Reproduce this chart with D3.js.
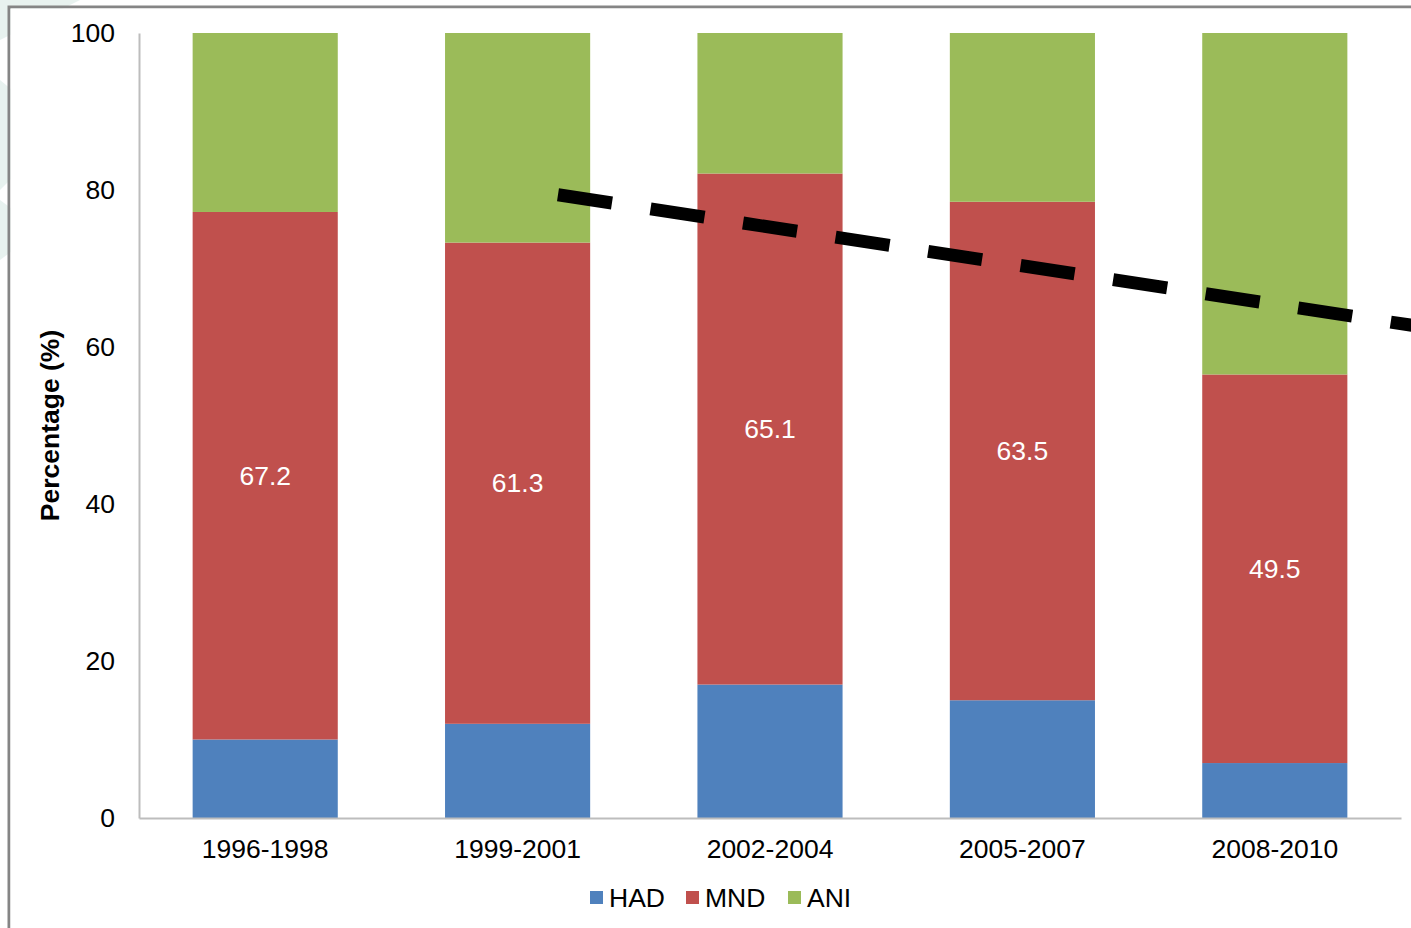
<!DOCTYPE html>
<html>
<head>
<meta charset="utf-8">
<script src="https://cdn.jsdelivr.net/npm/d3@7/dist/d3.min.js"></script>
<style>
  html, body { margin: 0; padding: 0; background: #ffffff; }
  svg { display: block; font-family: "Liberation Sans", Arial, sans-serif; }
</style>
</head>
<body>
<svg id="chart" width="1411" height="928"></svg>
<script>
// Periods on the x axis
const periods = ["1996-1998", "1999-2001", "2002-2004", "2005-2007", "2008-2010"];
// Share of each group per period (%)
const had = [10, 12, 17, 15, 7];
const mnd = [67.2, 61.3, 65.1, 63.5, 49.5];
const ani = [22.8, 26.7, 17.9, 21.5, 43.5];
const seriesNames = ["HAD", "MND", "ANI"];
const seriesColors = ["#4f81bd", "#c0504d", "#9bbb59"];
const yTicks = [0, 20, 40, 60, 80, 100];
// Declining trend: [period index, percentage]
const trendLine = [[1.16, 79.4], [4.8, 61.5]];

const FS = 26.5;
const svg = d3.select("#chart");
const W = 1411, H = 928;
const plot = { left: 139, right: 1401, top: 33, bottom: 818 };

// faint backdrop shapes behind the frame
svg.append("g").attr("fill", "#e8f2ef")
  .selectAll("path")
  .data([
    "M0,0 L80,0 L0,40 Z",
    "M0,80 L60,130 L0,190 Z",
    "M0,200 L40,230 L0,260 Z"
  ])
  .join("path").attr("d", d => d);

// frame
svg.append("path")
  .attr("d", `M9,${H} L9,7 L${W},7`)
  .attr("fill", "none").attr("stroke", "#858585").attr("stroke-width", 3);
svg.append("rect").attr("x", 10.5).attr("y", 8.5).attr("width", W).attr("height", H)
  .attr("fill", "#ffffff");

const x = d3.scaleBand().domain(periods).range([plot.left, plot.right])
  .paddingInner(0.425).paddingOuter(0.2125);
const y = d3.scaleLinear().domain([0, 100]).range([plot.bottom, plot.top]);
const xi = d3.scaleLinear().domain([0, 1])
  .range([x(periods[0]) + x.bandwidth() / 2, x(periods[1]) + x.bandwidth() / 2]);

const rows = periods.map((p, i) => ({ period: p, HAD: had[i], MND: mnd[i], ANI: ani[i] }));
const stack = d3.stack().keys(seriesNames)(rows);

// bars
svg.append("g").selectAll("g")
  .data(stack)
  .join("g")
  .attr("fill", (d, i) => seriesColors[i])
  .selectAll("rect")
  .data(d => d)
  .join("rect")
  .attr("x", d => x(d.data.period))
  .attr("width", x.bandwidth())
  .attr("y", d => y(d[1]))
  .attr("height", d => y(d[0]) - y(d[1]));

// MND value labels
svg.append("g").selectAll("text")
  .data(stack[1])
  .join("text")
  .attr("x", d => x(d.data.period) + x.bandwidth() / 2)
  .attr("y", d => (y(d[0]) + y(d[1])) / 2)
  .attr("dy", "0.35em")
  .attr("text-anchor", "middle")
  .attr("fill", "#ffffff")
  .attr("font-size", FS)
  .text(d => d.data.MND.toFixed(1));

// y axis
const yAxis = svg.append("g").attr("transform", `translate(${plot.left},0)`)
  .call(d3.axisLeft(y).tickValues(yTicks).tickSize(0).tickPadding(24));
yAxis.select(".domain").attr("stroke", "#bdbdbd").attr("stroke-width", 2);
yAxis.selectAll("text").attr("font-size", FS).attr("fill", "#000")
  .attr("font-family", "Liberation Sans, Arial, sans-serif");

// x axis
const xAxis = svg.append("g").attr("transform", `translate(0,${plot.bottom})`)
  .call(d3.axisBottom(x).tickSize(0).tickPadding(21));
xAxis.select(".domain").attr("stroke", "#bdbdbd").attr("stroke-width", 2);
xAxis.selectAll("text").attr("font-size", FS).attr("fill", "#000")
  .attr("font-family", "Liberation Sans, Arial, sans-serif");

// y axis title
svg.append("text")
  .attr("transform", `translate(59,${(plot.top + plot.bottom) / 2 + 0}) rotate(-90)`)
  .attr("text-anchor", "middle")
  .attr("font-size", FS).attr("font-weight", "bold")
  .text("Percentage (%)");

// trend line
svg.append("path")
  .datum(trendLine)
  .attr("d", d3.line().x(d => xi(d[0])).y(d => y(d[1])))
  .attr("fill", "none")
  .attr("stroke", "#000")
  .attr("stroke-width", 13)
  .attr("stroke-dasharray", "54.6 39");

// legend
const legendItems = [
  { name: "HAD", color: seriesColors[0], x: 590 },
  { name: "MND", color: seriesColors[1], x: 686 },
  { name: "ANI", color: seriesColors[2], x: 788 }
];
const lg = svg.append("g").selectAll("g").data(legendItems).join("g")
  .attr("transform", d => `translate(${d.x},891)`);
lg.append("rect").attr("width", 13).attr("height", 13).attr("fill", d => d.color);
lg.append("text").attr("x", 19).attr("y", 6.5).attr("dy", "0.36em")
  .attr("font-size", FS).text(d => d.name);
</script>
</body>
</html>
